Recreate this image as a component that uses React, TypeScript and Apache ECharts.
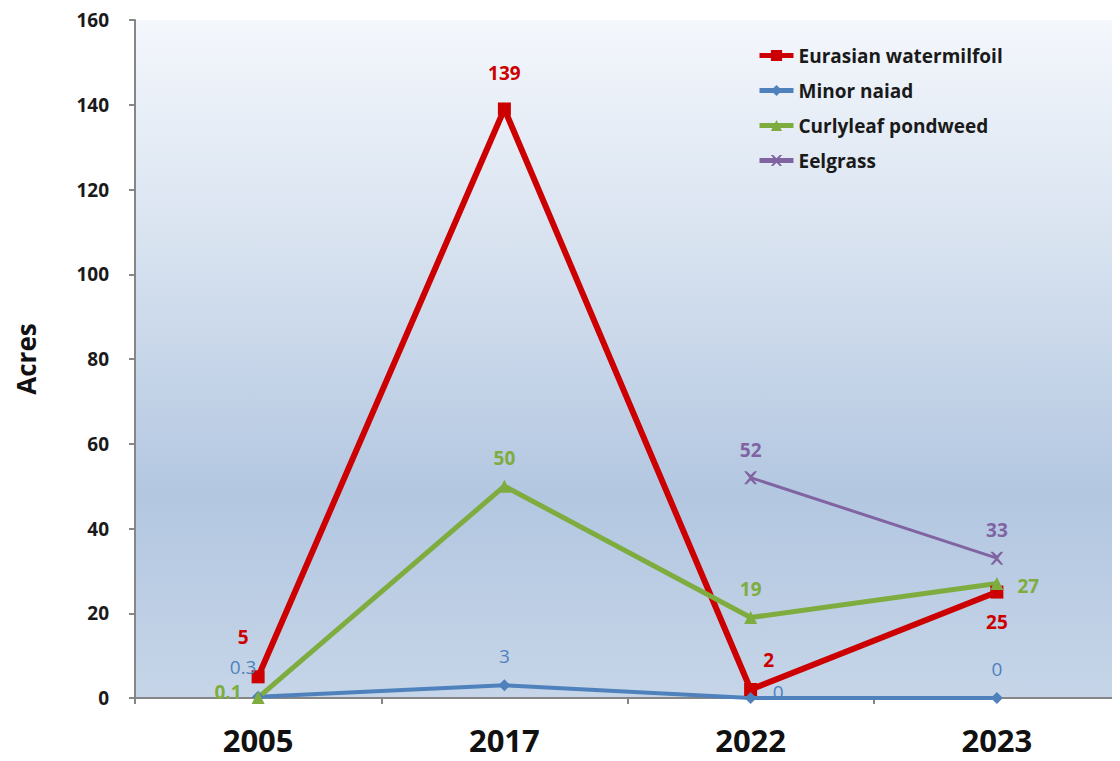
import React, { useEffect, useRef } from "react";
import * as echarts from "echarts";

const years = ["2005", "2017", "2022", "2023"];
const watermilfoil = [5, 139, 2, 25];
const minorNaiad = [0.3, 3, 0, 0];
const curlyleaf = [0.1, 50, 19, 27];
const eelgrass: (number | null)[] = [null, null, 52, 33];
const yTicks = [0, 20, 40, 60, 80, 100, 120, 140, 160];

const FONT = "'Open Sans', 'Liberation Sans', sans-serif";

type LabelCfg = { position: any; offset?: [number, number] };

function build(values: (number | null)[], cfgs: LabelCfg[]) {
  return values.map((v, i) =>
    v === null
      ? null
      : {
          value: v,
          label: { position: cfgs[i].position, offset: cfgs[i].offset || [0, 0] },
        }
  );
}

export default function App() {
  const ref = useRef<HTMLDivElement>(null);
  useEffect(() => {
    if (!ref.current) return;
    const chart = echarts.init(ref.current, undefined, { renderer: "svg" });
    const mkSeries = (
      name: string,
      data: any[],
      color: string,
      width: number,
      symbol: string,
      symbolSize: number,
      bold: boolean
    ) => ({
      name,
      type: "line",
      data,
      connectNulls: false,
      symbol,
      symbolSize,
      lineStyle: { color, width },
      itemStyle: { color },
      label: {
        show: true,
        color,
        fontFamily: FONT,
        fontSize: 19,
        fontWeight: bold ? "bold" : "normal",
        distance: 8,
      },
      emphasis: { disabled: true },
    });
    chart.setOption({
      animation: false,
      backgroundColor: "#ffffff",
      grid: {
        left: 135,
        top: 20,
        right: 0,
        height: 678,
        show: true,
        borderWidth: 0,
        backgroundColor: {
          type: "linear",
          x: 0,
          y: 0,
          x2: 0,
          y2: 1,
          colorStops: [
            { offset: 0, color: "#f4f7fc" },
            { offset: 0.35, color: "#d6e1ef" },
            { offset: 0.7, color: "#b3c7e1" },
            { offset: 1, color: "#c6d5e8" },
          ],
        },
      },
      legend: {
        orient: "vertical",
        left: 752,
        top: 41,
        itemGap: 16,
        itemWidth: 34,
        itemHeight: 14,
        lineStyle: { width: 5 },
        textStyle: { fontFamily: FONT, fontSize: 19, fontWeight: "bold", color: "#1a1a1a" },
        data: ["Eurasian watermilfoil", "Minor naiad", "Curlyleaf pondweed", "Eelgrass"],
      },
      xAxis: {
        type: "category",
        data: years,
        boundaryGap: true,
        axisLine: { lineStyle: { color: "#868686", width: 2 } },
        axisTick: { show: true, length: 6, lineStyle: { color: "#868686", width: 2 } },
        axisLabel: {
          fontFamily: FONT,
          fontSize: 31,
          fontWeight: "bold",
          color: "#111",
          margin: 26,
        },
      },
      yAxis: {
        type: "value",
        min: 0,
        max: 160,
        interval: 20,
        name: "Acres",
        nameLocation: "middle",
        nameGap: 96,
        nameRotate: 90,
        nameTextStyle: { fontFamily: FONT, fontSize: 26, fontWeight: "bold", color: "#111" },
        axisLine: { show: true, lineStyle: { color: "#868686", width: 2 } },
        axisTick: { show: true, length: 6, lineStyle: { color: "#868686", width: 2 } },
        splitLine: { show: false },
        axisLabel: {
          fontFamily: FONT,
          fontSize: 19,
          fontWeight: "bold",
          color: "#1a1a1a",
          margin: 26,
          formatter: (v: number) => (yTicks.includes(v) ? String(v) : ""),
        },
      },
      series: [
        mkSeries(
          "Eurasian watermilfoil",
          build(watermilfoil, [
            { position: "top", offset: [-15, -16] },
            { position: "top", offset: [0, -12] },
            { position: "top", offset: [18, -6] },
            { position: "bottom", offset: [0, 6] },
          ]),
          "#cc0000",
          6,
          "rect",
          13,
          true
        ),
        mkSeries(
          "Minor naiad",
          build(minorNaiad, [
            { position: "top", offset: [-15, -6] },
            { position: "top", offset: [0, -6] },
            { position: "right", offset: [8, -6] },
            { position: "top", offset: [0, -6] },
          ]),
          "#4f81bd",
          4,
          "diamond",
          12,
          false
        ),
        mkSeries(
          "Curlyleaf pondweed",
          build(curlyleaf, [
            { position: "left", offset: [-2, -6] },
            { position: "top", offset: [0, -4] },
            { position: "top", offset: [0, -4] },
            { position: "right", offset: [6, 2] },
          ]),
          "#7eac3f",
          5,
          "triangle",
          13,
          true
        ),
        mkSeries(
          "Eelgrass",
          build(eelgrass, [
            { position: "top" },
            { position: "top" },
            { position: "top", offset: [0, -4] },
            { position: "top", offset: [0, -4] },
          ]),
          "#8064a2",
          3,
          "path://M0,0 L2,0 L5,3 L8,0 L10,0 L6,5 L10,10 L8,10 L5,7 L2,10 L0,10 L4,5 Z",
          13,
          true
        ),
      ],
    });
    return () => chart.dispose();
  }, []);
  return <div ref={ref} style={{ width: 1120, height: 761, margin: -8 }} />;
}
